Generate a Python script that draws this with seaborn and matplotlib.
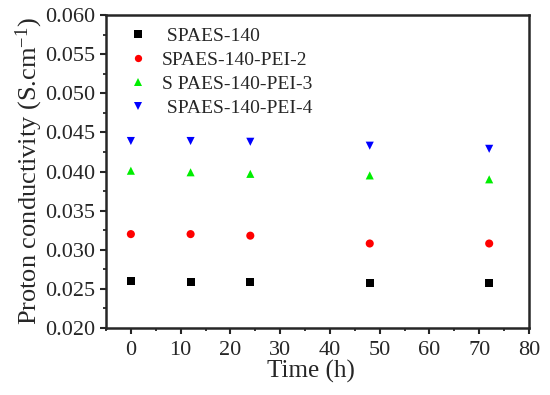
import matplotlib
matplotlib.use("Agg")
import matplotlib.pyplot as plt
import seaborn as sns
import pandas as pd
from matplotlib.ticker import MultipleLocator

time_h = [0, 12, 24, 48, 72]
spaes140 = [0.0260, 0.0259, 0.0259, 0.0258, 0.0257]
pei2 = [0.0320, 0.0320, 0.0318, 0.0308, 0.0308]
pei3 = [0.0401, 0.0399, 0.0397, 0.0395, 0.0390]
pei4 = [0.0439, 0.0439, 0.0438, 0.0433, 0.0429]
labels = [" SPAES-140", "SPAES-140-PEI-2", "S PAES-140-PEI-3", " SPAES-140-PEI-4"]
colors = ["#000000", "#ff0000", "#00ee00", "#0000ff"]
markers = ["s", "o", "^", "v"]

rows = []
for lab, vals in zip(labels, [spaes140, pei2, pei3, pei4]):
    for t, v in zip(time_h, vals):
        rows.append({"Time": t, "Cond": v, "Sample": lab})
df = pd.DataFrame(rows)

sns.set_style("ticks")
plt.rcParams["font.family"] = ["Liberation Serif", "DejaVu Serif"]
plt.rcParams["mathtext.fontset"] = "custom"
plt.rcParams["mathtext.rm"] = "Liberation Serif"
plt.rcParams["mathtext.it"] = "Liberation Serif:italic"

fig = plt.figure(figsize=(5.5, 3.95), dpi=100)
ax = fig.add_axes([0.1927, 0.1696, 0.7691, 0.7924])

sns.scatterplot(data=df, x="Time", y="Cond", hue="Sample", style="Sample",
                palette=dict(zip(labels, colors)), markers=dict(zip(labels, markers)),
                s=34, linewidth=0, ax=ax, legend=True)

ax.set_xlim(-5, 80)
ax.set_ylim(0.020, 0.060)
ax.xaxis.set_major_locator(MultipleLocator(10))
ax.xaxis.set_minor_locator(MultipleLocator(5))
ax.yaxis.set_major_locator(MultipleLocator(0.005))
ax.yaxis.set_minor_locator(MultipleLocator(0.0025))
ax.yaxis.set_major_formatter(matplotlib.ticker.FormatStrFormatter("%.3f"))

for sp in ax.spines.values():
    sp.set_linewidth(1.8)
    sp.set_visible(True)
ax.tick_params(which="major", direction="out", length=4.5, width=1.5, labelsize=16)
ax.tick_params(axis="x", which="major", pad=5)
ax.tick_params(axis="y", which="major", pad=3)
ax.tick_params(which="minor", direction="out", length=2.5, width=1.3)
ax.tick_params(top=False, right=False, which="both")

ax.set_xlabel("Time (h)", fontsize=18, labelpad=0, x=0.485)
ax.set_ylabel("Proton conductivity (S.cm$^{-1}$)", fontsize=19, labelpad=0)

leg = ax.legend(loc="upper left", frameon=False, fontsize=14, handletextpad=0.45,
                handlelength=1.6, labelspacing=0.32, borderaxespad=0.0,
                bbox_to_anchor=(0.02, 0.985), markerscale=0.9)

fig.savefig("out.png", dpi=100)
